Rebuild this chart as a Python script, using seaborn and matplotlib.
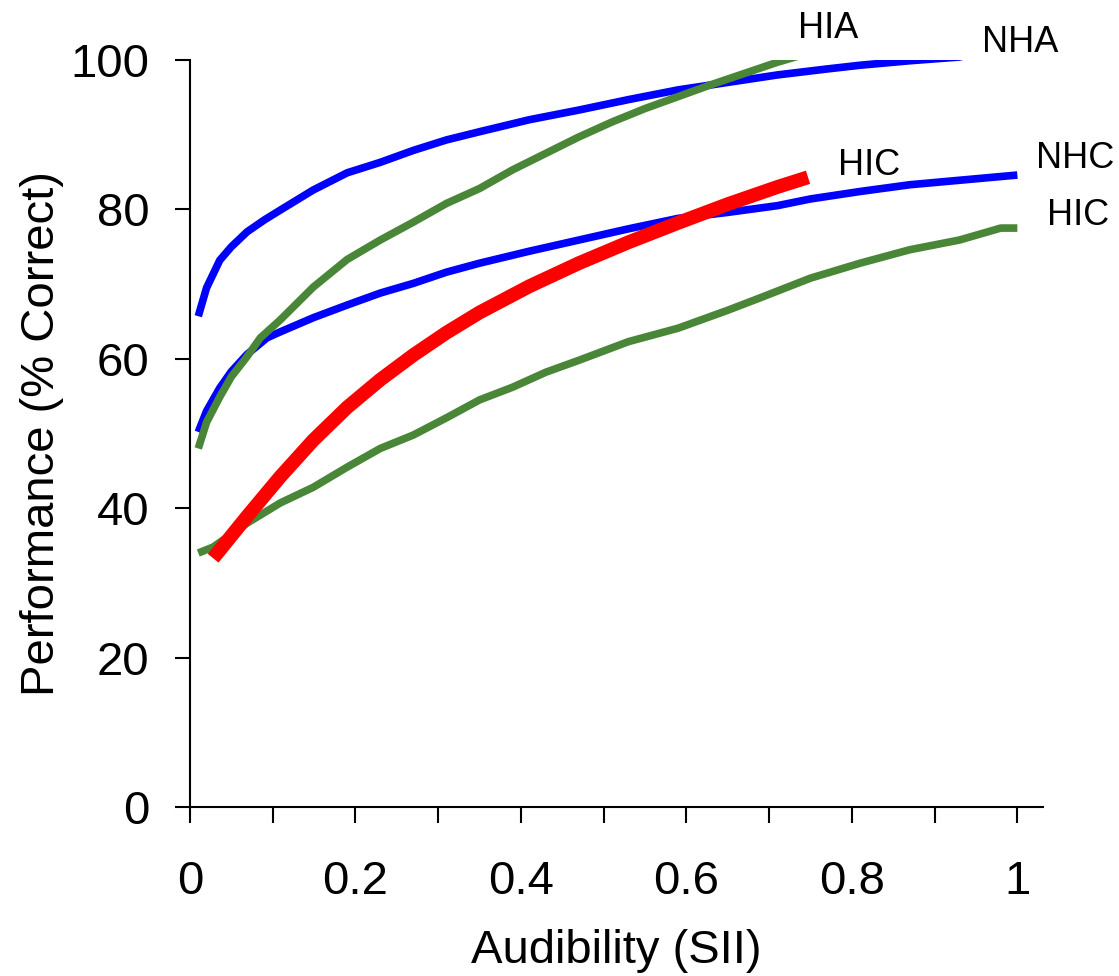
import numpy as np
import pandas as pd
import matplotlib
matplotlib.use("Agg")
import matplotlib.pyplot as plt
import seaborn as sns
from matplotlib.ticker import MultipleLocator

# ---------------- data ----------------
nha_x = [0.01, 0.02, 0.036, 0.05, 0.069, 0.09, 0.109, 0.149, 0.19, 0.23, 0.27, 0.31,
         0.35, 0.41, 0.47, 0.53, 0.59, 0.65, 0.71, 0.77, 0.81, 0.87, 0.93, 0.95]
nha_y = [65.7, 69.5, 73.2, 75.0, 77.0, 78.6, 79.9, 82.6, 84.9, 86.3, 87.9, 89.3,
         90.4, 92.0, 93.3, 94.7, 96.0, 97.0, 98.0, 98.8, 99.3, 99.9, 100.4, 101.0]

nhc_x = [0.01, 0.02, 0.036, 0.05, 0.069, 0.093, 0.109, 0.149, 0.19, 0.23, 0.27, 0.31,
         0.35, 0.41, 0.47, 0.53, 0.59, 0.65, 0.71, 0.75, 0.81, 0.87, 0.93, 1.0]
nhc_y = [50.2, 53.0, 56.1, 58.3, 60.6, 62.8, 63.6, 65.5, 67.2, 68.8, 70.1, 71.6,
         72.8, 74.4, 75.9, 77.4, 78.8, 79.6, 80.5, 81.4, 82.4, 83.3, 83.9, 84.6]

hia_x = [0.01, 0.02, 0.036, 0.05, 0.069, 0.085, 0.109, 0.149, 0.19, 0.23, 0.27, 0.31,
         0.35, 0.39, 0.43, 0.47, 0.51, 0.55, 0.59, 0.63, 0.67, 0.71, 0.75]
hia_y = [48.0, 51.5, 54.9, 57.6, 60.3, 62.8, 65.2, 69.6, 73.3, 75.9, 78.3, 80.8,
         82.8, 85.3, 87.5, 89.7, 91.7, 93.5, 95.1, 96.7, 98.2, 99.7, 101.0]

hic_x = [0.01, 0.028, 0.069, 0.109, 0.149, 0.19, 0.23, 0.27, 0.31, 0.35, 0.39, 0.43,
         0.47, 0.53, 0.59, 0.65, 0.69, 0.75, 0.81, 0.87, 0.93, 0.98, 1.0]
hic_y = [34.0, 34.8, 38.0, 40.7, 42.8, 45.5, 48.0, 49.8, 52.1, 54.5, 56.2, 58.2,
         59.8, 62.3, 64.1, 66.5, 68.2, 70.8, 72.8, 74.6, 75.9, 77.5, 77.5]

fit_x = [0.028, 0.069, 0.109, 0.149, 0.19, 0.23, 0.27, 0.31, 0.35, 0.41, 0.47, 0.53,
         0.59, 0.65, 0.71, 0.747]
fit_y = [33.3, 38.9, 44.2, 49.1, 53.5, 57.2, 60.5, 63.5, 66.2, 69.7, 72.8, 75.6,
         78.2, 80.7, 83.0, 84.3]

x_ticks = [0, 0.2, 0.4, 0.6, 0.8, 1]
x_tick_labels = ["0", "0.2", "0.4", "0.6", "0.8", "1"]
y_ticks = [0, 20, 40, 60, 80, 100]

labels = ["HIA", "NHA", "HIC", "NHC", "HIC"]
label_x = [0.771, 1.004, 0.821, 1.070, 1.074]
label_y = [102.9, 101.1, 84.6, 85.5, 77.9]

# ---------------- style ----------------
sns.set_style("ticks")
plt.rcParams["font.family"] = ["Liberation Sans", "DejaVu Sans"]
plt.rcParams["text.color"] = "black"
plt.rcParams["axes.labelcolor"] = "black"
plt.rcParams["xtick.color"] = "black"
plt.rcParams["ytick.color"] = "black"
plt.rcParams["axes.edgecolor"] = "black"

BLUE = "#0000ff"
GREEN = "#4a8638"
RED = "#ff0000"

fig = plt.figure(figsize=(11.19, 9.76), dpi=100)
ax = fig.add_axes([190 / 1119, 1 - 807 / 976, (1043 - 190) / 1119, (807 - 60) / 976])

series = [
    (nha_x, nha_y, BLUE, 5.5),
    (nhc_x, nhc_y, BLUE, 5.5),
    (hia_x, hia_y, GREEN, 5.5),
    (hic_x, hic_y, GREEN, 5.5),
    (fit_x, fit_y, RED, 10.0),
]
for xs, ys, col, lw in series:
    df = pd.DataFrame({"x": xs, "y": ys})
    sns.lineplot(data=df, x="x", y="y", color=col, linewidth=lw, ax=ax,
                 sort=False, estimator=None, solid_capstyle="butt",
                 solid_joinstyle="round")

ax.set_xlim(0, 1.031)
ax.set_ylim(0, 100)
ax.set_xticks(x_ticks)
ax.set_xticklabels(x_tick_labels)
ax.xaxis.set_minor_locator(MultipleLocator(0.1))
ax.set_yticks(y_ticks)

for sp in ["top", "right"]:
    ax.spines[sp].set_visible(False)
for sp in ["left", "bottom"]:
    ax.spines[sp].set_linewidth(1.5)
    ax.spines[sp].set_color("black")

ax.tick_params(axis="x", which="both", direction="out", length=11.5, width=1.5,
               color="black", labelcolor="black", labelsize=34, pad=27)
ax.tick_params(axis="y", which="major", direction="out", length=11, width=1.5,
               color="black", labelcolor="black", labelsize=34, pad=18)
ax.tick_params(axis="y", which="minor", length=0)

ax.set_xlabel("Audibility (SII)", fontsize=34, labelpad=18, color="black")
ax.set_ylabel("Performance (% Correct)", fontsize=34, labelpad=5, color="black")

for t, lx, ly in zip(labels, label_x, label_y):
    ax.text(lx, ly, t, fontsize=26, ha="center", va="baseline", clip_on=False,
            color="black")

ax.grid(False)
fig.savefig("out.png", dpi=100, facecolor="white")
